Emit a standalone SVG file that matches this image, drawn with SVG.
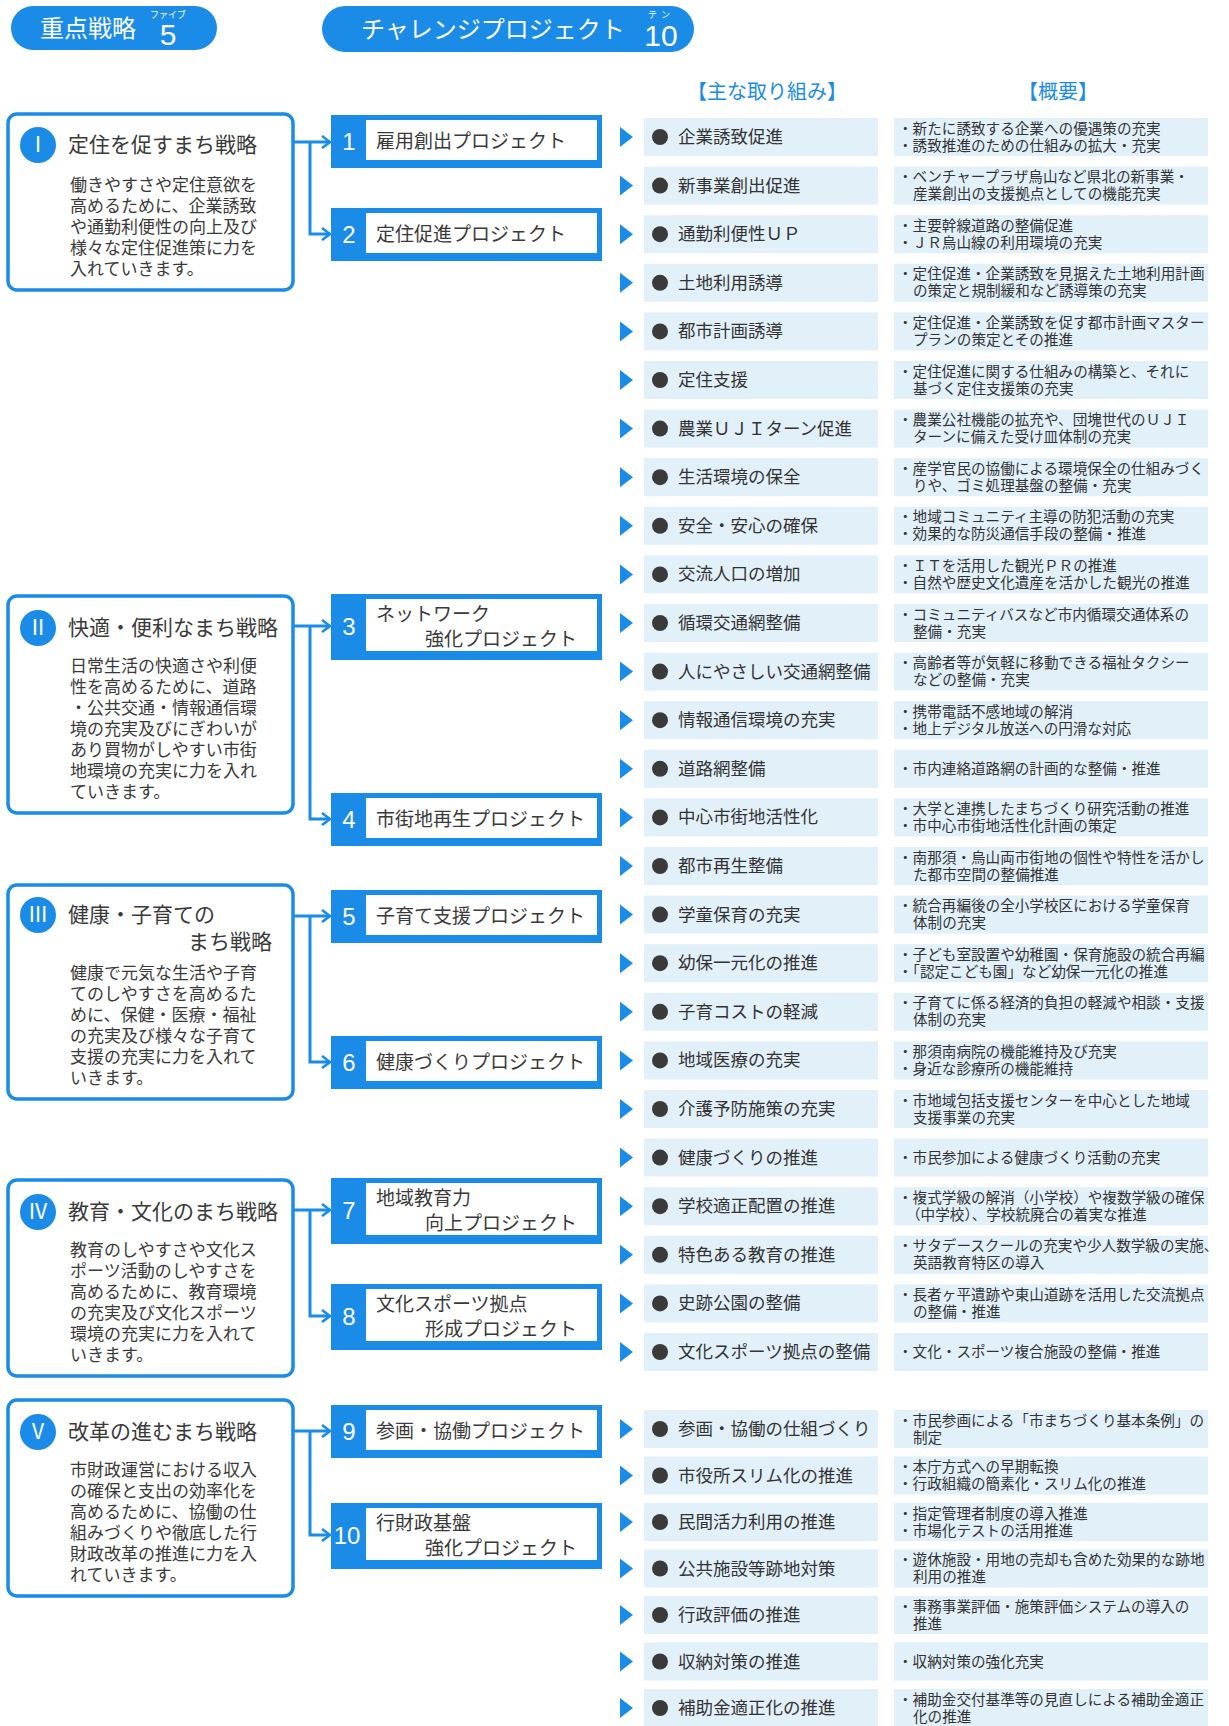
<svg xmlns="http://www.w3.org/2000/svg" width="1229" height="1726" viewBox="0 0 1229 1726">
<style>
.pill{fill:#1b8be8}
.jp{font-family:"Noto Sans CJK JP","Noto Sans",sans-serif}
.en{font-family:"Liberation Sans",Arial,sans-serif}
.pt{fill:#fff}
.hdr{font-size:20px;fill:#1b8be8;text-anchor:middle}
.sbox{fill:#fff;stroke:#1b8be8;stroke-width:3.5}
.sc{fill:#1b8be8}
.sn{font-size:21px;fill:#fff;text-anchor:middle}
.st{font-size:21px;fill:#3a3a3a}
.sb{font-size:17px;fill:#3a3a3a}
.pout{fill:#1b8be8}
.pin{fill:#fff}
.pn{font-size:24px;fill:#fff;text-anchor:middle}
.ptx{font-size:19px;fill:#3a3a3a}
.tri{fill:#1b8be8}
.cell{fill:#e2f0fa}
.dot{fill:#3a3a3a}
.it{font-size:17.5px;fill:#333}
.ds{font-size:14.6px;fill:#333}
.conn{fill:none;stroke:#1b8be8;stroke-width:3}
</style>
<defs>
<marker id="arr" viewBox="0 0 10 14" refX="9" refY="7" markerWidth="10" markerHeight="14" markerUnits="userSpaceOnUse" orient="auto"><path d="M1,1 L9,7 L1,13" fill="none" stroke="#1b8be8" stroke-width="2.6"/></marker>
</defs>
<rect x="0" y="0" width="1229" height="1726" fill="#ffffff"/>

<g id="pill-strategies">
<rect class="pill" x="11" y="6" width="206" height="44" rx="22"/>
<text class="jp pt" x="40" y="37" font-size="24">重点戦略</text>
<text class="jp pt" x="168" y="18" font-size="9" text-anchor="middle">ファイブ</text>
<text class="en pt" x="168" y="45" font-size="30" text-anchor="middle">5</text>
</g>
<g id="pill-projects">
<rect class="pill" x="322" y="6" width="372" height="46" rx="23"/>
<text class="jp pt" x="361" y="38" font-size="24">チャレンジプロジェクト</text>
<text class="jp pt" x="661" y="18" font-size="9" text-anchor="middle" letter-spacing="4">テン</text>
<text class="en pt" x="661" y="46" font-size="30" text-anchor="middle">10</text>
</g>
<g id="headers">
<text class="jp hdr" x="767" y="99">【主な取り組み】</text>
<text class="jp hdr" x="1058" y="99">【概要】</text>
</g>

<g id="strategy-1">
<rect class="sbox" x="8" y="114" width="285" height="176" rx="9"/>
<circle class="sc" cx="38" cy="145" r="18"/>
<text class="jp sn" x="38" y="152">Ⅰ</text>
<text class="jp st" x="68" y="152">定住を促すまち戦略</text>
<text class="jp sb" x="70" y="191"><tspan x="70">働きやすさや定住意欲を</tspan><tspan x="70" dy="21">高めるために、企業誘致</tspan><tspan x="70" dy="21">や通勤利便性の向上及び</tspan><tspan x="70" dy="21">様々な定住促進策に力を</tspan><tspan x="70" dy="21">入れていきます。</tspan></text>
</g>
<g id="strategy-2">
<rect class="sbox" x="8" y="596" width="285" height="217" rx="9"/>
<circle class="sc" cx="38" cy="628" r="18"/>
<text class="jp sn" x="38" y="635">Ⅱ</text>
<text class="jp st" x="68" y="635">快適・便利なまち戦略</text>
<text class="jp sb" x="70" y="672"><tspan x="70">日常生活の快適さや利便</tspan><tspan x="70" dy="21">性を高めるために、道路</tspan><tspan x="70" dy="21">・公共交通・情報通信環</tspan><tspan x="70" dy="21">境の充実及びにぎわいが</tspan><tspan x="70" dy="21">あり買物がしやすい市街</tspan><tspan x="70" dy="21">地環境の充実に力を入れ</tspan><tspan x="70" dy="21">ていきます。</tspan></text>
</g>
<g id="strategy-3">
<rect class="sbox" x="8" y="885" width="285" height="214" rx="9"/>
<circle class="sc" cx="38" cy="915" r="18"/>
<text class="jp sn" x="38" y="922">Ⅲ</text>
<text class="jp st" x="68" y="922"><tspan x="68">健康・子育ての</tspan><tspan x="272" dy="27" text-anchor="end">まち戦略</tspan></text>
<text class="jp sb" x="70" y="979"><tspan x="70">健康で元気な生活や子育</tspan><tspan x="70" dy="21">てのしやすさを高めるた</tspan><tspan x="70" dy="21">めに、保健・医療・福祉</tspan><tspan x="70" dy="21">の充実及び様々な子育て</tspan><tspan x="70" dy="21">支援の充実に力を入れて</tspan><tspan x="70" dy="21">いきます。</tspan></text>
</g>
<g id="strategy-4">
<rect class="sbox" x="8" y="1180" width="285" height="196" rx="9"/>
<circle class="sc" cx="38" cy="1212" r="18"/>
<text class="jp sn" x="38" y="1219">Ⅳ</text>
<text class="jp st" x="68" y="1219">教育・文化のまち戦略</text>
<text class="jp sb" x="70" y="1256"><tspan x="70">教育のしやすさや文化ス</tspan><tspan x="70" dy="21">ポーツ活動のしやすさを</tspan><tspan x="70" dy="21">高めるために、教育環境</tspan><tspan x="70" dy="21">の充実及び文化スポーツ</tspan><tspan x="70" dy="21">環境の充実に力を入れて</tspan><tspan x="70" dy="21">いきます。</tspan></text>
</g>
<g id="strategy-5">
<rect class="sbox" x="8" y="1400" width="285" height="196" rx="9"/>
<circle class="sc" cx="38" cy="1432" r="18"/>
<text class="jp sn" x="38" y="1439">Ⅴ</text>
<text class="jp st" x="68" y="1439">改革の進むまち戦略</text>
<text class="jp sb" x="70" y="1476"><tspan x="70">市財政運営における収入</tspan><tspan x="70" dy="21">の確保と支出の効率化を</tspan><tspan x="70" dy="21">高めるために、協働の仕</tspan><tspan x="70" dy="21">組みづくりや徹底した行</tspan><tspan x="70" dy="21">財政改革の推進に力を入</tspan><tspan x="70" dy="21">れていきます。</tspan></text>
</g>

<g id="project-1" transform="translate(0,141)">
<rect class="pout" x="331" y="-26" width="271" height="53"/><rect class="pin" x="366" y="-21" width="231" height="40"/>
<text class="en pn" x="349" y="9">1</text><text class="jp ptx" x="376" y="7">雇用創出プロジェクト</text>
</g>
<g id="project-2" transform="translate(0,234)">
<rect class="pout" x="331" y="-26" width="271" height="53"/><rect class="pin" x="366" y="-21" width="231" height="40"/>
<text class="en pn" x="349" y="9">2</text><text class="jp ptx" x="376" y="7">定住促進プロジェクト</text>
</g>
<g id="project-3" transform="translate(0,626)">
<rect class="pout" x="331" y="-32" width="271" height="66"/><rect class="pin" x="366" y="-27" width="231" height="52"/>
<text class="en pn" x="349" y="9">3</text><text class="jp ptx" x="376" y="-5"><tspan x="376">ネットワーク</tspan><tspan x="425" dy="25">強化プロジェクト</tspan></text>
</g>
<g id="project-4" transform="translate(0,819)">
<rect class="pout" x="331" y="-26" width="271" height="53"/><rect class="pin" x="366" y="-21" width="231" height="40"/>
<text class="en pn" x="349" y="9">4</text><text class="jp ptx" x="376" y="7">市街地再生プロジェクト</text>
</g>
<g id="project-5" transform="translate(0,916)">
<rect class="pout" x="331" y="-26" width="271" height="53"/><rect class="pin" x="366" y="-21" width="231" height="40"/>
<text class="en pn" x="349" y="9">5</text><text class="jp ptx" x="376" y="7">子育て支援プロジェクト</text>
</g>
<g id="project-6" transform="translate(0,1062)">
<rect class="pout" x="331" y="-26" width="271" height="53"/><rect class="pin" x="366" y="-21" width="231" height="40"/>
<text class="en pn" x="349" y="9">6</text><text class="jp ptx" x="376" y="7">健康づくりプロジェクト</text>
</g>
<g id="project-7" transform="translate(0,1210)">
<rect class="pout" x="331" y="-32" width="271" height="66"/><rect class="pin" x="366" y="-27" width="231" height="52"/>
<text class="en pn" x="349" y="9">7</text><text class="jp ptx" x="376" y="-5"><tspan x="376">地域教育力</tspan><tspan x="425" dy="25">向上プロジェクト</tspan></text>
</g>
<g id="project-8" transform="translate(0,1316)">
<rect class="pout" x="331" y="-32" width="271" height="66"/><rect class="pin" x="366" y="-27" width="231" height="52"/>
<text class="en pn" x="349" y="9">8</text><text class="jp ptx" x="376" y="-5"><tspan x="376">文化スポーツ拠点</tspan><tspan x="425" dy="25">形成プロジェクト</tspan></text>
</g>
<g id="project-9" transform="translate(0,1431)">
<rect class="pout" x="331" y="-26" width="271" height="53"/><rect class="pin" x="366" y="-21" width="231" height="40"/>
<text class="en pn" x="349" y="9">9</text><text class="jp ptx" x="376" y="7">参画・協働プロジェクト</text>
</g>
<g id="project-10" transform="translate(0,1535)">
<rect class="pout" x="331" y="-32" width="271" height="66"/><rect class="pin" x="366" y="-27" width="231" height="52"/>
<text class="en pn" x="347" y="9">10</text><text class="jp ptx" x="376" y="-5"><tspan x="376">行財政基盤</tspan><tspan x="425" dy="25">強化プロジェクト</tspan></text>
</g>

<g id="connectors">
<path class="conn" d="M293,142 H330" marker-end="url(#arr)"/>
<path class="conn" d="M310,142 V234 H330" marker-end="url(#arr)"/>
<path class="conn" d="M293,626 H330" marker-end="url(#arr)"/>
<path class="conn" d="M310,626 V819 H330" marker-end="url(#arr)"/>
<path class="conn" d="M293,916 H330" marker-end="url(#arr)"/>
<path class="conn" d="M310,916 V1062 H330" marker-end="url(#arr)"/>
<path class="conn" d="M293,1210 H330" marker-end="url(#arr)"/>
<path class="conn" d="M310,1210 V1316 H330" marker-end="url(#arr)"/>
<path class="conn" d="M293,1431 H330" marker-end="url(#arr)"/>
<path class="conn" d="M310,1431 V1535 H330" marker-end="url(#arr)"/>
</g>

<g id="item-01" transform="translate(0,137)"><polygon class="tri" points="620,-10 633,0 620,10"/><rect class="cell" x="644" y="-19" width="234" height="38"/><circle class="dot" cx="660" cy="0" r="8"/><text class="jp it" x="678" y="6">企業誘致促進</text><rect class="cell" x="894" y="-19" width="314" height="38"/><text class="jp ds" x="898" y="-3.5"><tspan x="898">・新たに誘致する企業への優遇策の充実</tspan><tspan x="898" dy="17">・誘致推進のための仕組みの拡大・充実</tspan></text></g>
<g id="item-02" transform="translate(0,185.6)"><polygon class="tri" points="620,-10 633,0 620,10"/><rect class="cell" x="644" y="-19" width="234" height="38"/><circle class="dot" cx="660" cy="0" r="8"/><text class="jp it" x="678" y="6">新事業創出促進</text><rect class="cell" x="894" y="-19" width="314" height="38"/><text class="jp ds" x="898" y="-3.5"><tspan x="898">・ベンチャープラザ烏山など県北の新事業・</tspan><tspan x="913" dy="17">産業創出の支援拠点としての機能充実</tspan></text></g>
<g id="item-03" transform="translate(0,234.2)"><polygon class="tri" points="620,-10 633,0 620,10"/><rect class="cell" x="644" y="-19" width="234" height="38"/><circle class="dot" cx="660" cy="0" r="8"/><text class="jp it" x="678" y="6">通勤利便性ＵＰ</text><rect class="cell" x="894" y="-19" width="314" height="38"/><text class="jp ds" x="898" y="-3.5"><tspan x="898">・主要幹線道路の整備促進</tspan><tspan x="898" dy="17">・ＪＲ烏山線の利用環境の充実</tspan></text></g>
<g id="item-04" transform="translate(0,282.8)"><polygon class="tri" points="620,-10 633,0 620,10"/><rect class="cell" x="644" y="-19" width="234" height="38"/><circle class="dot" cx="660" cy="0" r="8"/><text class="jp it" x="678" y="6">土地利用誘導</text><rect class="cell" x="894" y="-19" width="314" height="38"/><text class="jp ds" x="898" y="-3.5"><tspan x="898">・定住促進・企業誘致を見据えた土地利用計画</tspan><tspan x="913" dy="17">の策定と規制緩和など誘導策の充実</tspan></text></g>
<g id="item-05" transform="translate(0,331.4)"><polygon class="tri" points="620,-10 633,0 620,10"/><rect class="cell" x="644" y="-19" width="234" height="38"/><circle class="dot" cx="660" cy="0" r="8"/><text class="jp it" x="678" y="6">都市計画誘導</text><rect class="cell" x="894" y="-19" width="314" height="38"/><text class="jp ds" x="898" y="-3.5"><tspan x="898">・定住促進・企業誘致を促す都市計画マスター</tspan><tspan x="913" dy="17">プランの策定とその推進</tspan></text></g>
<g id="item-06" transform="translate(0,380)"><polygon class="tri" points="620,-10 633,0 620,10"/><rect class="cell" x="644" y="-19" width="234" height="38"/><circle class="dot" cx="660" cy="0" r="8"/><text class="jp it" x="678" y="6">定住支援</text><rect class="cell" x="894" y="-19" width="314" height="38"/><text class="jp ds" x="898" y="-3.5"><tspan x="898">・定住促進に関する仕組みの構築と、それに</tspan><tspan x="913" dy="17">基づく定住支援策の充実</tspan></text></g>
<g id="item-07" transform="translate(0,428.6)"><polygon class="tri" points="620,-10 633,0 620,10"/><rect class="cell" x="644" y="-19" width="234" height="38"/><circle class="dot" cx="660" cy="0" r="8"/><text class="jp it" x="678" y="6">農業ＵＪＩターン促進</text><rect class="cell" x="894" y="-19" width="314" height="38"/><text class="jp ds" x="898" y="-3.5"><tspan x="898">・農業公社機能の拡充や、団塊世代のＵＪＩ</tspan><tspan x="913" dy="17">ターンに備えた受け皿体制の充実</tspan></text></g>
<g id="item-08" transform="translate(0,477.2)"><polygon class="tri" points="620,-10 633,0 620,10"/><rect class="cell" x="644" y="-19" width="234" height="38"/><circle class="dot" cx="660" cy="0" r="8"/><text class="jp it" x="678" y="6">生活環境の保全</text><rect class="cell" x="894" y="-19" width="314" height="38"/><text class="jp ds" x="898" y="-3.5"><tspan x="898">・産学官民の協働による環境保全の仕組みづく</tspan><tspan x="913" dy="17">りや、ゴミ処理基盤の整備・充実</tspan></text></g>
<g id="item-09" transform="translate(0,525.8)"><polygon class="tri" points="620,-10 633,0 620,10"/><rect class="cell" x="644" y="-19" width="234" height="38"/><circle class="dot" cx="660" cy="0" r="8"/><text class="jp it" x="678" y="6">安全・安心の確保</text><rect class="cell" x="894" y="-19" width="314" height="38"/><text class="jp ds" x="898" y="-3.5"><tspan x="898">・地域コミュニティ主導の防犯活動の充実</tspan><tspan x="898" dy="17">・効果的な防災通信手段の整備・推進</tspan></text></g>
<g id="item-10" transform="translate(0,574.4)"><polygon class="tri" points="620,-10 633,0 620,10"/><rect class="cell" x="644" y="-19" width="234" height="38"/><circle class="dot" cx="660" cy="0" r="8"/><text class="jp it" x="678" y="6">交流人口の増加</text><rect class="cell" x="894" y="-19" width="314" height="38"/><text class="jp ds" x="898" y="-3.5"><tspan x="898">・ＩＴを活用した観光ＰＲの推進</tspan><tspan x="898" dy="17">・自然や歴史文化遺産を活かした観光の推進</tspan></text></g>
<g id="item-11" transform="translate(0,623)"><polygon class="tri" points="620,-10 633,0 620,10"/><rect class="cell" x="644" y="-19" width="234" height="38"/><circle class="dot" cx="660" cy="0" r="8"/><text class="jp it" x="678" y="6">循環交通網整備</text><rect class="cell" x="894" y="-19" width="314" height="38"/><text class="jp ds" x="898" y="-3.5"><tspan x="898">・コミュニティバスなど市内循環交通体系の</tspan><tspan x="913" dy="17">整備・充実</tspan></text></g>
<g id="item-12" transform="translate(0,671.6)"><polygon class="tri" points="620,-10 633,0 620,10"/><rect class="cell" x="644" y="-19" width="234" height="38"/><circle class="dot" cx="660" cy="0" r="8"/><text class="jp it" x="678" y="6">人にやさしい交通網整備</text><rect class="cell" x="894" y="-19" width="314" height="38"/><text class="jp ds" x="898" y="-3.5"><tspan x="898">・高齢者等が気軽に移動できる福祉タクシー</tspan><tspan x="913" dy="17">などの整備・充実</tspan></text></g>
<g id="item-13" transform="translate(0,720.2)"><polygon class="tri" points="620,-10 633,0 620,10"/><rect class="cell" x="644" y="-19" width="234" height="38"/><circle class="dot" cx="660" cy="0" r="8"/><text class="jp it" x="678" y="6">情報通信環境の充実</text><rect class="cell" x="894" y="-19" width="314" height="38"/><text class="jp ds" x="898" y="-3.5"><tspan x="898">・携帯電話不感地域の解消</tspan><tspan x="898" dy="17">・地上デジタル放送への円滑な対応</tspan></text></g>
<g id="item-14" transform="translate(0,768.8)"><polygon class="tri" points="620,-10 633,0 620,10"/><rect class="cell" x="644" y="-19" width="234" height="38"/><circle class="dot" cx="660" cy="0" r="8"/><text class="jp it" x="678" y="6">道路網整備</text><rect class="cell" x="894" y="-19" width="314" height="38"/><text class="jp ds" x="898" y="5">・市内連絡道路網の計画的な整備・推進</text></g>
<g id="item-15" transform="translate(0,817.4)"><polygon class="tri" points="620,-10 633,0 620,10"/><rect class="cell" x="644" y="-19" width="234" height="38"/><circle class="dot" cx="660" cy="0" r="8"/><text class="jp it" x="678" y="6">中心市街地活性化</text><rect class="cell" x="894" y="-19" width="314" height="38"/><text class="jp ds" x="898" y="-3.5"><tspan x="898">・大学と連携したまちづくり研究活動の推進</tspan><tspan x="898" dy="17">・市中心市街地活性化計画の策定</tspan></text></g>
<g id="item-16" transform="translate(0,866)"><polygon class="tri" points="620,-10 633,0 620,10"/><rect class="cell" x="644" y="-19" width="234" height="38"/><circle class="dot" cx="660" cy="0" r="8"/><text class="jp it" x="678" y="6">都市再生整備</text><rect class="cell" x="894" y="-19" width="314" height="38"/><text class="jp ds" x="898" y="-3.5"><tspan x="898">・南那須・烏山両市街地の個性や特性を活かし</tspan><tspan x="913" dy="17">た都市空間の整備推進</tspan></text></g>
<g id="item-17" transform="translate(0,914.6)"><polygon class="tri" points="620,-10 633,0 620,10"/><rect class="cell" x="644" y="-19" width="234" height="38"/><circle class="dot" cx="660" cy="0" r="8"/><text class="jp it" x="678" y="6">学童保育の充実</text><rect class="cell" x="894" y="-19" width="314" height="38"/><text class="jp ds" x="898" y="-3.5"><tspan x="898">・統合再編後の全小学校区における学童保育</tspan><tspan x="913" dy="17">体制の充実</tspan></text></g>
<g id="item-18" transform="translate(0,963.2)"><polygon class="tri" points="620,-10 633,0 620,10"/><rect class="cell" x="644" y="-19" width="234" height="38"/><circle class="dot" cx="660" cy="0" r="8"/><text class="jp it" x="678" y="6">幼保一元化の推進</text><rect class="cell" x="894" y="-19" width="314" height="38"/><text class="jp ds" x="898" y="-3.5"><tspan x="898">・子ども室設置や幼稚園・保育施設の統合再編</tspan><tspan x="898" dy="17">・「認定こども園」など幼保一元化の推進</tspan></text></g>
<g id="item-19" transform="translate(0,1011.8)"><polygon class="tri" points="620,-10 633,0 620,10"/><rect class="cell" x="644" y="-19" width="234" height="38"/><circle class="dot" cx="660" cy="0" r="8"/><text class="jp it" x="678" y="6">子育コストの軽減</text><rect class="cell" x="894" y="-19" width="314" height="38"/><text class="jp ds" x="898" y="-3.5"><tspan x="898">・子育てに係る経済的負担の軽減や相談・支援</tspan><tspan x="913" dy="17">体制の充実</tspan></text></g>
<g id="item-20" transform="translate(0,1060.4)"><polygon class="tri" points="620,-10 633,0 620,10"/><rect class="cell" x="644" y="-19" width="234" height="38"/><circle class="dot" cx="660" cy="0" r="8"/><text class="jp it" x="678" y="6">地域医療の充実</text><rect class="cell" x="894" y="-19" width="314" height="38"/><text class="jp ds" x="898" y="-3.5"><tspan x="898">・那須南病院の機能維持及び充実</tspan><tspan x="898" dy="17">・身近な診療所の機能維持</tspan></text></g>
<g id="item-21" transform="translate(0,1109)"><polygon class="tri" points="620,-10 633,0 620,10"/><rect class="cell" x="644" y="-19" width="234" height="38"/><circle class="dot" cx="660" cy="0" r="8"/><text class="jp it" x="678" y="6">介護予防施策の充実</text><rect class="cell" x="894" y="-19" width="314" height="38"/><text class="jp ds" x="898" y="-3.5"><tspan x="898">・市地域包括支援センターを中心とした地域</tspan><tspan x="913" dy="17">支援事業の充実</tspan></text></g>
<g id="item-22" transform="translate(0,1157.6)"><polygon class="tri" points="620,-10 633,0 620,10"/><rect class="cell" x="644" y="-19" width="234" height="38"/><circle class="dot" cx="660" cy="0" r="8"/><text class="jp it" x="678" y="6">健康づくりの推進</text><rect class="cell" x="894" y="-19" width="314" height="38"/><text class="jp ds" x="898" y="5">・市民参加による健康づくり活動の充実</text></g>
<g id="item-23" transform="translate(0,1206.2)"><polygon class="tri" points="620,-10 633,0 620,10"/><rect class="cell" x="644" y="-19" width="234" height="38"/><circle class="dot" cx="660" cy="0" r="8"/><text class="jp it" x="678" y="6">学校適正配置の推進</text><rect class="cell" x="894" y="-19" width="314" height="38"/><text class="jp ds" x="898" y="-3.5"><tspan x="898">・複式学級の解消（小学校）や複数学級の確保</tspan><tspan x="906" dy="17">（中学校）、学校統廃合の着実な推進</tspan></text></g>
<g id="item-24" transform="translate(0,1254.8)"><polygon class="tri" points="620,-10 633,0 620,10"/><rect class="cell" x="644" y="-19" width="234" height="38"/><circle class="dot" cx="660" cy="0" r="8"/><text class="jp it" x="678" y="6">特色ある教育の推進</text><rect class="cell" x="894" y="-19" width="314" height="38"/><text class="jp ds" x="898" y="-3.5"><tspan x="898">・サタデースクールの充実や少人数学級の実施、</tspan><tspan x="913" dy="17">英語教育特区の導入</tspan></text></g>
<g id="item-25" transform="translate(0,1303.4)"><polygon class="tri" points="620,-10 633,0 620,10"/><rect class="cell" x="644" y="-19" width="234" height="38"/><circle class="dot" cx="660" cy="0" r="8"/><text class="jp it" x="678" y="6">史跡公園の整備</text><rect class="cell" x="894" y="-19" width="314" height="38"/><text class="jp ds" x="898" y="-3.5"><tspan x="898">・長者ヶ平遺跡や東山道跡を活用した交流拠点</tspan><tspan x="913" dy="17">の整備・推進</tspan></text></g>
<g id="item-26" transform="translate(0,1352)"><polygon class="tri" points="620,-10 633,0 620,10"/><rect class="cell" x="644" y="-19" width="234" height="38"/><circle class="dot" cx="660" cy="0" r="8"/><text class="jp it" x="678" y="6">文化スポーツ拠点の整備</text><rect class="cell" x="894" y="-19" width="314" height="38"/><text class="jp ds" x="898" y="5">・文化・スポーツ複合施設の整備・推進</text></g>
<g id="item-27" transform="translate(0,1429)"><polygon class="tri" points="620,-10 633,0 620,10"/><rect class="cell" x="644" y="-19" width="234" height="38"/><circle class="dot" cx="660" cy="0" r="8"/><text class="jp it" x="678" y="6">参画・協働の仕組づくり</text><rect class="cell" x="894" y="-19" width="314" height="38"/><text class="jp ds" x="898" y="-3.5"><tspan x="898">・市民参画による「市まちづくり基本条例」の</tspan><tspan x="913" dy="17">制定</tspan></text></g>
<g id="item-28" transform="translate(0,1475.5)"><polygon class="tri" points="620,-10 633,0 620,10"/><rect class="cell" x="644" y="-19" width="234" height="38"/><circle class="dot" cx="660" cy="0" r="8"/><text class="jp it" x="678" y="6">市役所スリム化の推進</text><rect class="cell" x="894" y="-19" width="314" height="38"/><text class="jp ds" x="898" y="-3.5"><tspan x="898">・本庁方式への早期転換</tspan><tspan x="898" dy="17">・行政組織の簡素化・スリム化の推進</tspan></text></g>
<g id="item-29" transform="translate(0,1522)"><polygon class="tri" points="620,-10 633,0 620,10"/><rect class="cell" x="644" y="-19" width="234" height="38"/><circle class="dot" cx="660" cy="0" r="8"/><text class="jp it" x="678" y="6">民間活力利用の推進</text><rect class="cell" x="894" y="-19" width="314" height="38"/><text class="jp ds" x="898" y="-3.5"><tspan x="898">・指定管理者制度の導入推進</tspan><tspan x="898" dy="17">・市場化テストの活用推進</tspan></text></g>
<g id="item-30" transform="translate(0,1568.5)"><polygon class="tri" points="620,-10 633,0 620,10"/><rect class="cell" x="644" y="-19" width="234" height="38"/><circle class="dot" cx="660" cy="0" r="8"/><text class="jp it" x="678" y="6">公共施設等跡地対策</text><rect class="cell" x="894" y="-19" width="314" height="38"/><text class="jp ds" x="898" y="-3.5"><tspan x="898">・遊休施設・用地の売却も含めた効果的な跡地</tspan><tspan x="913" dy="17">利用の推進</tspan></text></g>
<g id="item-31" transform="translate(0,1615)"><polygon class="tri" points="620,-10 633,0 620,10"/><rect class="cell" x="644" y="-19" width="234" height="38"/><circle class="dot" cx="660" cy="0" r="8"/><text class="jp it" x="678" y="6">行政評価の推進</text><rect class="cell" x="894" y="-19" width="314" height="38"/><text class="jp ds" x="898" y="-3.5"><tspan x="898">・事務事業評価・施策評価システムの導入の</tspan><tspan x="913" dy="17">推進</tspan></text></g>
<g id="item-32" transform="translate(0,1661.5)"><polygon class="tri" points="620,-10 633,0 620,10"/><rect class="cell" x="644" y="-19" width="234" height="38"/><circle class="dot" cx="660" cy="0" r="8"/><text class="jp it" x="678" y="6">収納対策の推進</text><rect class="cell" x="894" y="-19" width="314" height="38"/><text class="jp ds" x="898" y="5">・収納対策の強化充実</text></g>
<g id="item-33" transform="translate(0,1708)"><polygon class="tri" points="620,-10 633,0 620,10"/><rect class="cell" x="644" y="-19" width="234" height="38"/><circle class="dot" cx="660" cy="0" r="8"/><text class="jp it" x="678" y="6">補助金適正化の推進</text><rect class="cell" x="894" y="-19" width="314" height="38"/><text class="jp ds" x="898" y="-3.5"><tspan x="898">・補助金交付基準等の見直しによる補助金適正</tspan><tspan x="913" dy="17">化の推進</tspan></text></g>
</svg>
